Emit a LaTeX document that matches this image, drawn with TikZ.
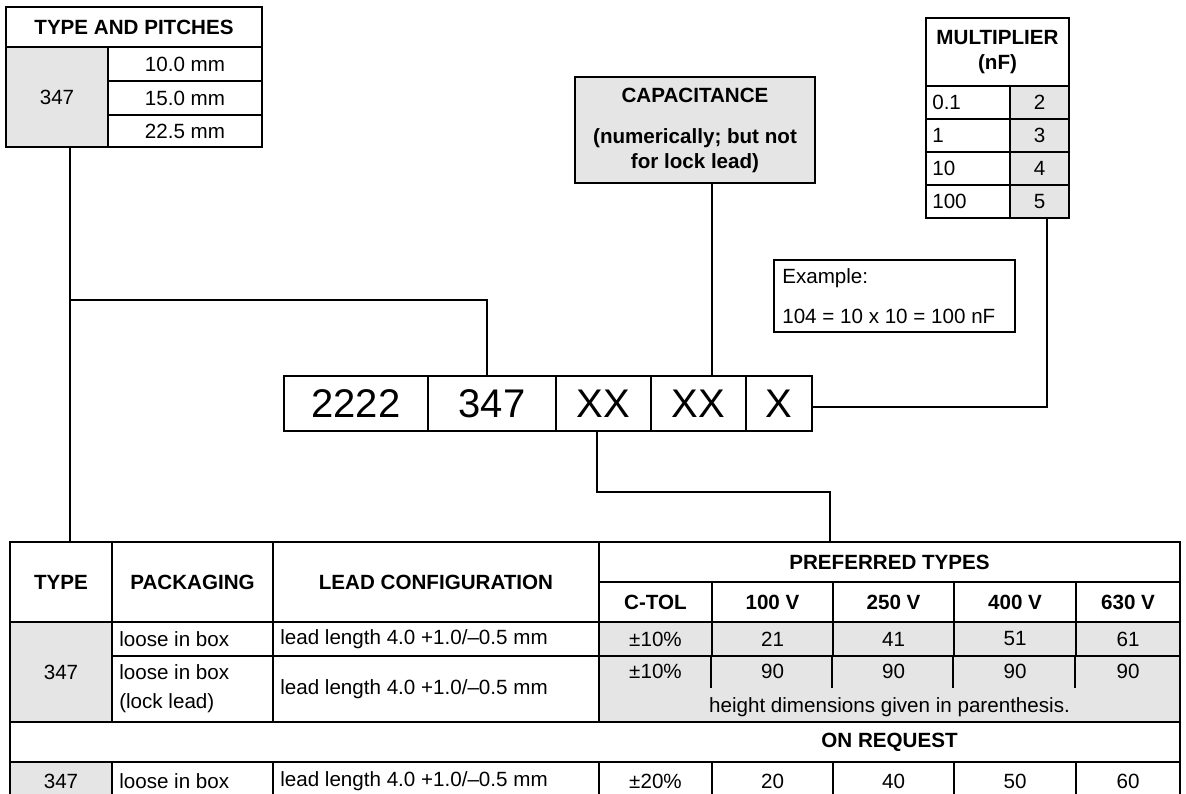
\documentclass[tikz,border=0pt]{standalone}
\usepackage{fontspec}
\setmainfont{Liberation Sans}
\newcommand\fs{\fontsize{20.6}{25}\selectfont}
\newcommand\fbig{\fontsize{40}{44}\selectfont}
\newcommand\cellat[6]{\node[cell,minimum width={#4-#2},minimum height={#5-#3},#6] (#1) at ({(#2+#4)/2},{(#3+#5)/2})}
\begin{document}
\begin{tikzpicture}[x=1pt,y=-1pt,
 cell/.style={draw,line width=1.8pt,inner sep=0pt,font=\fs,align=center},
 gry/.style={fill=black!10},
 bold/.style={font=\fs\bfseries},
 txt/.style={inner sep=0pt,font=\fs,align=left},
 wire/.style={line width=1.8pt}]
\useasboundingbox (0,0) rectangle (1186,794);
% --- type and pitches
\cellat{tph}{6}{7}{262}{47}{bold}{TYPE AND PITCHES};
\cellat{tpg}{6}{47}{108}{147}{gry}{347};
\cellat{tp1}{108}{47}{262}{81}{}{10.0 mm};
\cellat{tp2}{108}{81}{262}{115}{}{15.0 mm};
\cellat{tp3}{108}{115}{262}{147}{}{22.5 mm};
% --- capacitance
\cellat{cap}{575}{77}{815}{183}{gry,bold}{CAPACITANCE\\[16pt](numerically; but not\\for lock lead)};
% --- multiplier
\cellat{mh}{926}{18}{1069}{86}{bold}{MULTIPLIER\\(nF)};
\cellat{ml1}{926}{86}{1010}{119}{}{};
\cellat{mg1}{1010}{86}{1069}{119}{gry}{2};
\cellat{ml2}{926}{119}{1010}{152}{}{};
\cellat{mg2}{1010}{119}{1069}{152}{gry}{3};
\cellat{ml3}{926}{152}{1010}{185}{}{};
\cellat{mg3}{1010}{152}{1069}{185}{gry}{4};
\cellat{ml4}{926}{185}{1010}{218}{}{};
\cellat{mg4}{1010}{185}{1069}{218}{gry}{5};
\node[txt,anchor=west] (mt1) at ([xshift=7pt]ml1.west) {0.1};
\node[txt,anchor=west] (mt2) at ([xshift=7pt]ml2.west) {1};
\node[txt,anchor=west] (mt3) at ([xshift=7pt]ml3.west) {10};
\node[txt,anchor=west] (mt4) at ([xshift=7pt]ml4.west) {100};
% --- example
\cellat{ex}{774}{260}{1015}{332}{}{};
\node[txt,anchor=west] (ext) at ([xshift=9pt]ex.west) {Example:\\[15pt]104 = 10 x 10 = 100 nF};
% --- code
\cellat{c1}{284}{376}{428}{431}{font=\fbig}{2222};
\cellat{c2}{428}{376}{556}{431}{font=\fbig}{347};
\cellat{c3}{556}{376}{651}{431}{font=\fbig}{XX};
\cellat{c4}{651}{376}{746}{431}{font=\fbig}{XX};
\cellat{c5}{746}{376}{812}{431}{font=\fbig}{X};
% --- bottom table header
\cellat{bt1}{10}{542}{112}{622}{bold}{TYPE};
\cellat{bt2}{112}{542}{273}{622}{bold}{PACKAGING};
\cellat{bt3}{273}{542}{599}{622}{bold}{LEAD CONFIGURATION};
\cellat{bpt}{599}{542}{1180}{582}{bold}{PREFERRED TYPES};
\cellat{bh1}{599}{582}{712}{622}{bold}{C-TOL};
\cellat{bh2}{712}{582}{833}{622}{bold}{100 V};
\cellat{bh3}{833}{582}{954}{622}{bold}{250 V};
\cellat{bh4}{954}{582}{1076}{622}{bold}{400 V};
\cellat{bh5}{1076}{582}{1180}{622}{bold}{630 V};
% --- row 1
\cellat{r1t}{10}{622}{112}{722}{gry}{347};
\cellat{r1p}{112}{622}{273}{656}{}{};
\cellat{r1l}{273}{622}{599}{656}{}{};
\node[txt,anchor=west] (r1pt) at ([xshift=8pt]r1p.west) {loose in box};
\node[txt,anchor=west] (r1lt) at ([xshift=8pt]r1l.west) {lead length 4.0 +1.0/–0.5 mm};
\cellat{r1c}{599}{622}{712}{656}{gry}{±10\%};
\cellat{r1a}{712}{622}{833}{656}{gry}{21};
\cellat{r1b}{833}{622}{954}{656}{gry}{41};
\cellat{r1d}{954}{622}{1076}{656}{gry}{51};
\cellat{r1e}{1076}{622}{1180}{656}{gry}{61};
% --- row 2
\cellat{r2p}{112}{656}{273}{722}{}{};
\cellat{r2l}{273}{656}{599}{722}{}{};
\node[txt,anchor=west] (r2pt) at ([xshift=8pt]r2p.west) {loose in box\\[4pt](lock lead)};
\node[txt,anchor=west] (r2lt) at ([xshift=8pt]r2l.west) {lead length 4.0 +1.0/–0.5 mm};
\cellat{r2g}{599}{656}{1180}{722}{gry}{};
\node[txt] (r2c) at (655.5,671) {±10\%};
\node[txt] (r2a) at (772.5,671) {90};
\node[txt] (r2b) at (893.5,671) {90};
\node[txt] (r2d) at (1015,671) {90};
\node[txt] (r2e) at (1128,671) {90};
\draw[wire] (bh2.west |- r2g.north) -- ++(0,33);
\draw[wire] (bh3.west |- r2g.north) -- ++(0,33);
\draw[wire] (bh4.west |- r2g.north) -- ++(0,33);
\draw[wire] (bh5.west |- r2g.north) -- ++(0,33);
\node[txt] (r2h) at (889.5,707) {height dimensions given in parenthesis.};
% --- row 3
\cellat{r3}{10}{722}{1180}{762}{}{};
\node[txt,font=\fs\bfseries] (r3t) at (r3.center -| bpt.center) {ON REQUEST};
% --- row 4
\cellat{r4t}{10}{762}{112}{800}{gry}{347};
\cellat{r4p}{112}{762}{273}{800}{}{};
\cellat{r4l}{273}{762}{599}{800}{}{};
\node[txt,anchor=west] (r4pt) at ([xshift=8pt]r4p.west) {loose in box};
\node[txt,anchor=west] (r4lt) at ([xshift=8pt]r4l.west) {lead length 4.0 +1.0/–0.5 mm};
\cellat{r4c}{599}{762}{712}{800}{}{±20\%};
\cellat{r4a}{712}{762}{833}{800}{}{20};
\cellat{r4b}{833}{762}{954}{800}{}{40};
\cellat{r4d}{954}{762}{1076}{800}{}{50};
\cellat{r4e}{1076}{762}{1180}{800}{}{60};
% --- connectors
\coordinate (ja) at (70,300);
\coordinate (jb) at (487,300);
\draw[wire] (tpg.south -| ja) -- (bt1.north -| ja);
\draw[wire] (ja) -- (jb) -- (jb |- c2.north);
\coordinate (jc) at (712,250);
\draw[wire] (cap.south -| jc) -- (c4.north -| jc);
\coordinate (jm) at (1047,407);
\draw[wire] (c5.east |- jm) -- (jm) -- (jm |- mg4.south);
\coordinate (jd) at (597,492);
\coordinate (je) at (830,492);
\draw[wire] (c3.south -| jd) -- (jd) -- (je) -- (je |- bpt.north);
\end{tikzpicture}
\end{document}
